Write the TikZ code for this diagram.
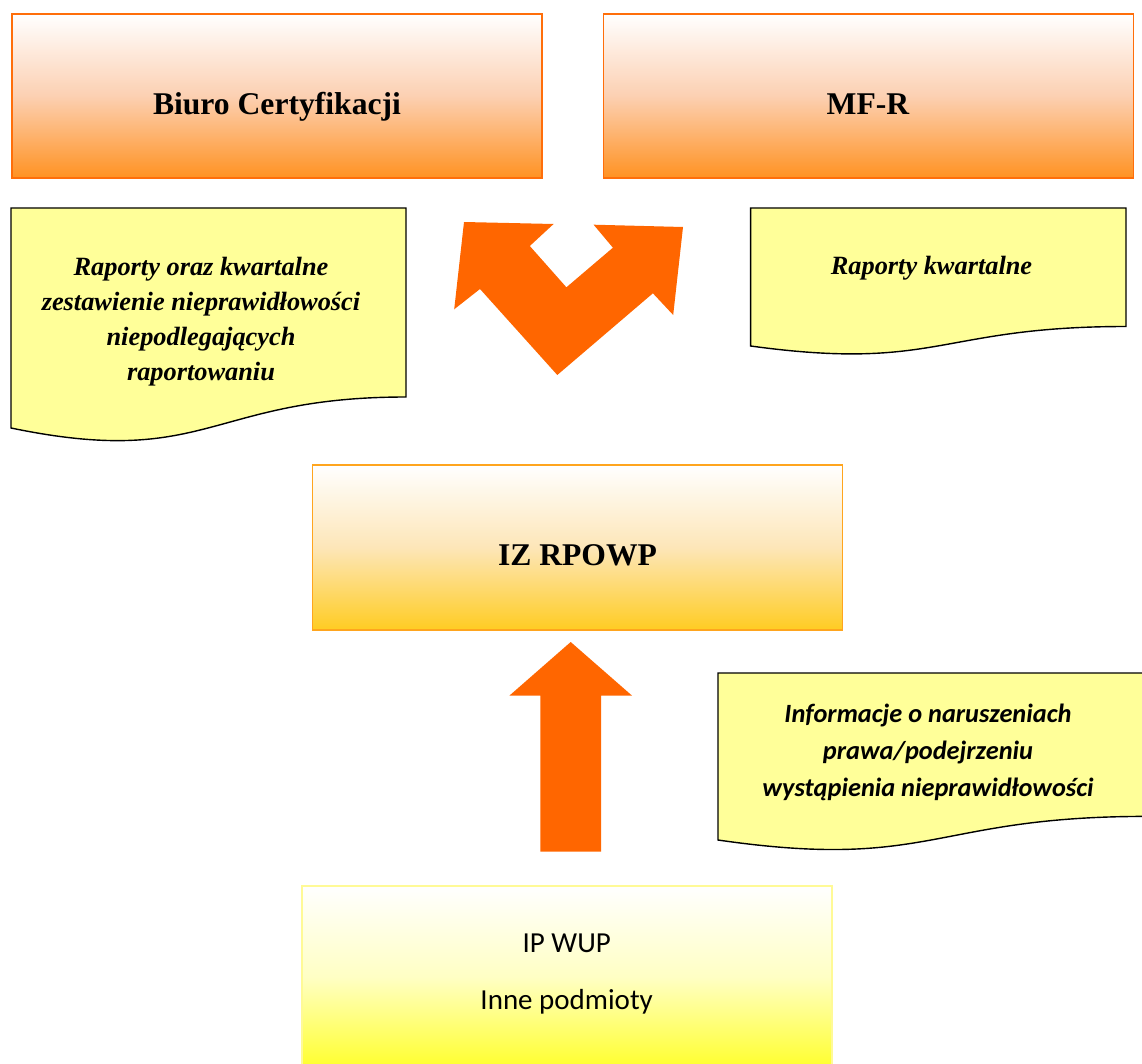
\documentclass[tikz,border=0pt]{standalone}
\usepackage{fontspec}
\setmainfont{Liberation Serif}
\newfontfamily\calibri{Carlito}
\definecolor{arroworange}{RGB}{255,102,0}
\definecolor{mfline}{RGB}{255,110,10}
\definecolor{mfbottom}{RGB}{255,146,34}
\definecolor{mfmiddle}{RGB}{252,208,178}
\definecolor{izline}{RGB}{255,165,30}
\definecolor{izbottom}{RGB}{255,204,34}
\definecolor{izmiddle}{RGB}{253,230,184}
\definecolor{ipline}{RGB}{255,250,150}
\definecolor{ipbottom}{RGB}{255,255,45}
\definecolor{ipmiddle}{RGB}{255,255,196}
\definecolor{docyellow}{RGB}{255,255,153}
\begin{document}
\begin{tikzpicture}[x=0.02cm, y=-0.02cm,
        box/.style={line width=1pt, inner sep=0pt, minimum width=10.6cm, minimum height=3.28cm},
        mfbox/.style={box, draw=mfline, top color=white, bottom color=mfbottom, middle color=mfmiddle},
        izbox/.style={box, draw=izline, top color=white, bottom color=izbottom, middle color=izmiddle},
        ipbox/.style={box, draw=ipline, top color=white, bottom color=ipbottom, middle color=ipmiddle},
        title/.style={anchor=base, inner sep=0pt, font=\fontsize{18}{21.6}\selectfont\bfseries},
        doc/.style={draw=black, line width=0.8pt, fill=docyellow},
        doctext/.style={inner sep=0pt, align=center, font=\fontsize{15}{19.9}\selectfont\bfseries\itshape},
        bigarrow/.style={fill=arroworange}]
        \useasboundingbox (0,0) rectangle (1142,1064);
        % top boxes
        \node[mfbox] (biuro) at (277,96) {};
        \node[title] (biurotext) at (277,115) {Biuro Certyfikacji};
        \node[mfbox] (mfr) at (868.5,96) {};
        \node[title] (mfrtext) at (868,115) {MF-R};
        % documents next to the double arrow
        \draw[doc] (11,208) -- (406,208) -- (406,397) .. controls (208.5,397) and (208.5,469) .. (11,428) -- cycle;
        \node[doctext] (raportyzest) at (201,321.3) {Raporty oraz kwartalne\\zestawienie nieprawidłowości\\niepodlegających\\raportowaniu};
        \draw[doc] (750.6,208) -- (1126,208) -- (1126,326.5) .. controls (938.3,326.5) and (938.3,371.7) .. (750.6,346) -- cycle;
        \node[doctext, anchor=base] (raportykw) at (931.5,275) {Raporty kwartalne};
        % double arrow
        \fill[bigarrow] (464,222) -- (553.6,224) -- (529.8,246) -- (566.4,287.3) -- (612.9,247.7) -- (593.6,224.7)
        -- (683,227) -- (673.2,315) -- (652.9,293.3) -- (557.3,375) -- (480,289) -- (454.2,309.3) -- cycle;
        % IZ
        \node[izbox, minimum height=3.3cm] (iz) at (577.5,547.5) {};
        \node[title] (iztext) at (577.5,565.7) {IZ RPOWP};
        % up arrow
        \fill[bigarrow] (570.7,642) -- (632.1,695.7) -- (601,695.7) -- (601,851.7) -- (540.4,851.7)
        -- (540.4,695.7) -- (509.3,695.7) -- cycle;
        \draw[doc] (718,673) -- (1146,673) -- (1146,816.4) .. controls (932,816.4) and (932,871) .. (718,840) -- cycle;
        \node[doctext, font=\calibri\fontsize{15}{20.85}\selectfont\bfseries\itshape] (informacje) at (928,752.5)
        {Informacje o naruszeniach\\prawa/podejrzeniu\\wystąpienia nieprawidłowości};
        % IP
        \node[ipbox, minimum height=3.65cm] (ip) at (566.7,976.9) {};
        \node[align=center, inner sep=0pt, font=\calibri\fontsize{16.5}{32.6}\selectfont] (iptext) at (566.7,974)
        {IP WUP\\Inne podmioty};
\end{tikzpicture}
\end{document}
